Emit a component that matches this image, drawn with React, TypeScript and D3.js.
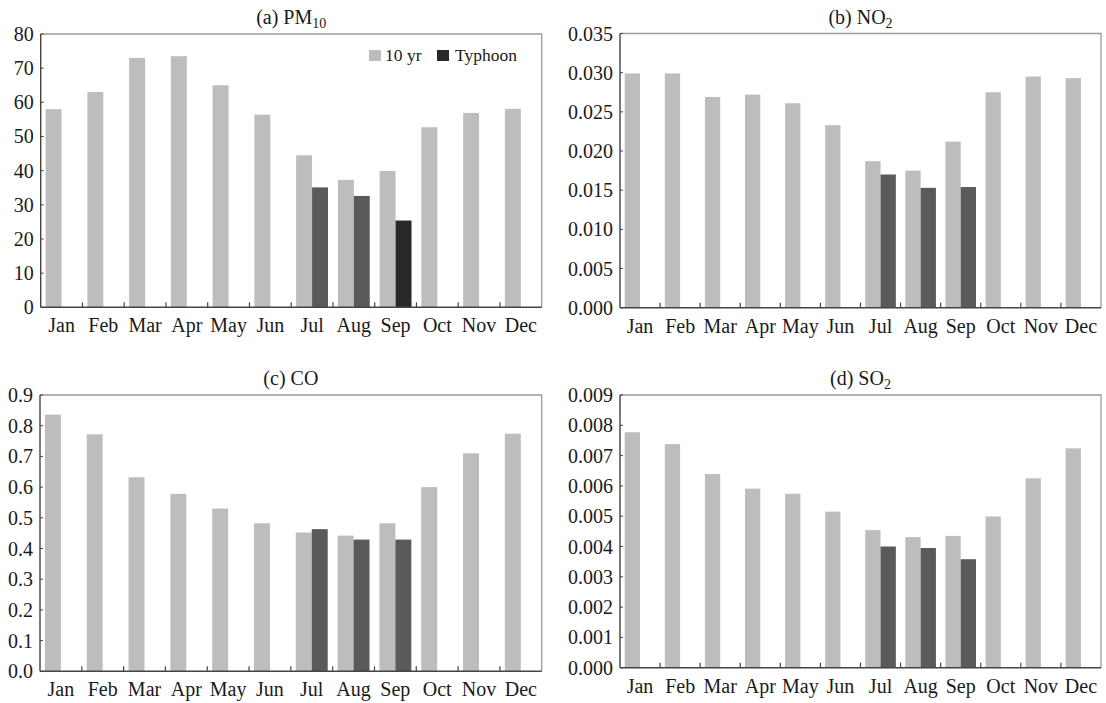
import React from 'react';
import * as d3 from 'd3';

const months = ['Jan', 'Feb', 'Mar', 'Apr', 'May', 'Jun', 'Jul', 'Aug', 'Sep', 'Oct', 'Nov', 'Dec'];
const seriesNames = ['10 yr', 'Typhoon'];

// 10-year monthly means and typhoon-period means (typhoon only Jul-Sep)
const pm10Decade = [58, 63, 73, 73.5, 65, 56.4, 44.5, 37.3, 39.9, 52.7, 56.9, 58.1];
const pm10Typhoon = [null, null, null, null, null, null, 35.1, 32.6, 25.4, null, null, null];
const no2Decade = [0.0299, 0.0299, 0.0269, 0.0272, 0.0261, 0.0233, 0.0187, 0.0175, 0.0212, 0.0275, 0.0295, 0.0293];
const no2Typhoon = [null, null, null, null, null, null, 0.017, 0.0153, 0.0154, null, null, null];
const coDecade = [0.836, 0.772, 0.632, 0.578, 0.53, 0.482, 0.452, 0.442, 0.482, 0.6, 0.71, 0.774];
const coTyphoon = [null, null, null, null, null, null, 0.463, 0.429, 0.429, null, null, null];
const so2Decade = [0.00777, 0.00738, 0.00639, 0.00591, 0.00574, 0.00515, 0.00454, 0.00431, 0.00435, 0.00499, 0.00625, 0.00724];
const so2Typhoon = [null, null, null, null, null, null, 0.004, 0.00395, 0.00358, null, null, null];

const FONT = 'Liberation Serif';
const LIGHT = '#bdbdbd';
const DARK = '#5a5a5a';
const DARKEST = '#282828';

type PanelProps = {
  label: string;
  sub?: string;
  decade: number[];
  typhoon: (number | null)[];
  yMax: number;
  nTicks: number;
  fmt: string;
  left: number;
  right: number;
  top: number;
  bottom: number;
  legend?: boolean;
  darkMonth?: string;
};

function Panel(p: PanelProps) {
  const x0 = d3.scaleBand<string>().domain(months).range([p.left, p.right]).padding(0);
  const x1 = d3.scaleBand<string>().domain(seriesNames).range([0, x0.bandwidth()]).paddingInner(0).paddingOuter(0.31);
  const y = d3.scaleLinear().domain([0, p.yMax]).range([p.bottom, p.top]);
  const ticks = y.ticks(p.nTicks);
  const f = d3.format(p.fmt);
  const cx = (p.left + p.right) / 2;

  return (
    <g style={{ fontFamily: FONT }} fill="#1a1a1a">
      <text x={cx} y={p.top - 10} textAnchor="middle" fontSize={20}>
        {p.label}
        {p.sub && <tspan fontSize={14} dy={4}>{p.sub}</tspan>}
      </text>
      {/* frame */}
      <path d={`M${p.left},${p.top}H${p.right}V${p.bottom}`} fill="none" stroke="#9a9a9a" strokeWidth={1.3} />
      {months.map((m, i) => (
        <g key={m}>
          <rect x={x0(m)! + x1('10 yr')!} y={y(p.decade[i])} width={x1.bandwidth()}
            height={p.bottom - y(p.decade[i])} fill={LIGHT} />
          {p.typhoon[i] != null && (
            <rect x={x0(m)! + x1('Typhoon')!} y={y(p.typhoon[i] as number)} width={x1.bandwidth()}
              height={p.bottom - y(p.typhoon[i] as number)} fill={m === p.darkMonth ? DARKEST : DARK} />
          )}
        </g>
      ))}
      {/* axes */}
      <line x1={p.left} x2={p.left} y1={p.top} y2={p.bottom} stroke="#444" strokeWidth={1.4} />
      <line x1={p.left} x2={p.right} y1={p.bottom} y2={p.bottom} stroke="#444" strokeWidth={1.4} />
      {months.slice(1).map((m) => (
        <line key={'t' + m} x1={x0(m)} x2={x0(m)} y1={p.bottom} y2={p.bottom - 5} stroke="#444" strokeWidth={1.2} />
      ))}
      {ticks.map((t) => (
        <g key={'y' + t}>
          <line x1={p.left} x2={p.left + 3} y1={y(t)} y2={y(t)} stroke="#444" strokeWidth={1} />
          <text x={p.left - 7} y={y(t)} dy="0.35em" textAnchor="end" fontSize={20}>{f(t)}</text>
        </g>
      ))}
      {months.map((m) => (
        <text key={'l' + m} x={x0(m)! + x0.bandwidth() / 2} y={p.bottom + 25} textAnchor="middle" fontSize={20}>{m}</text>
      ))}
      {p.legend && (
        <g fontSize={17.5}>
          <rect x={369} y={50} width={12} height={11} fill={LIGHT} />
          <text x={385} y={60.5}>{seriesNames[0]}</text>
          <rect x={437} y={50} width={12} height={11} fill={DARKEST} />
          <text x={455} y={60.5}>{seriesNames[1]}</text>
        </g>
      )}
    </g>
  );
}

export default function App() {
  return (
    <svg width={1106} height={703} style={{ position: 'absolute', left: 0, top: 0, background: '#fff' }}>
      <rect width={1106} height={703} fill="#fff" />
      <Panel label="(a) PM" sub="10" decade={pm10Decade} typhoon={pm10Typhoon} yMax={80} nTicks={8} fmt="d"
        left={40.7} right={541.7} top={34} bottom={307.3} legend darkMonth="Sep" />
      <Panel label="(b) NO" sub="2" decade={no2Decade} typhoon={no2Typhoon} yMax={0.035} nTicks={7} fmt=".3f"
        left={620} right={1101} top={33.5} bottom={307.7} />
      <Panel label="(c) CO" decade={coDecade} typhoon={coTyphoon} yMax={0.9} nTicks={9} fmt=".1f"
        left={40} right={541.7} top={395} bottom={671.3} />
      <Panel label="(d) SO" sub="2" decade={so2Decade} typhoon={so2Typhoon} yMax={0.009} nTicks={9} fmt=".3f"
        left={620} right={1101} top={395} bottom={667.7} />
    </svg>
  );
}
